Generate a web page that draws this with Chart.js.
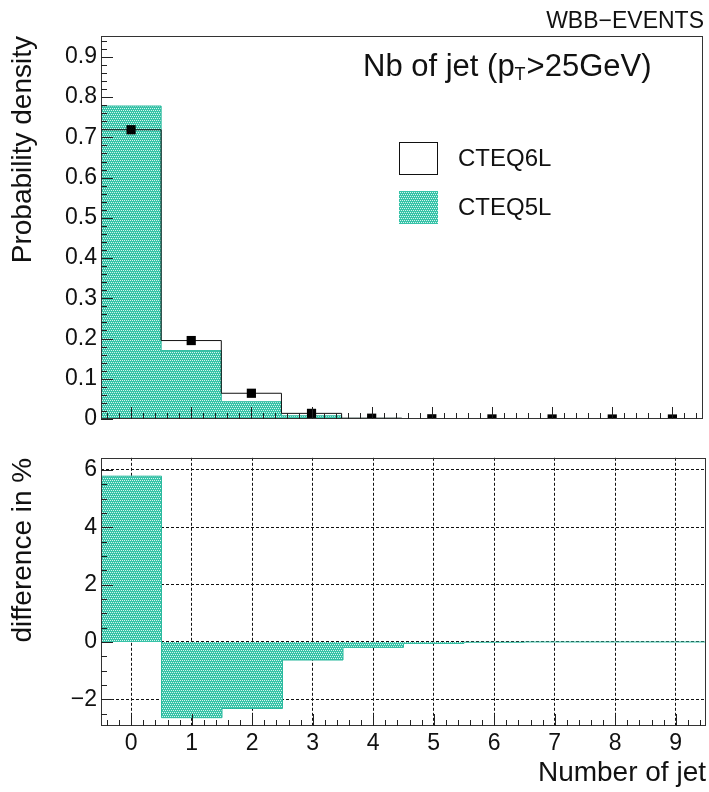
<!DOCTYPE html>
<html>
<head>
<meta charset="utf-8">
<script src="https://cdn.jsdelivr.net/npm/chart.js@4.4.1/dist/chart.umd.min.js"></script>
<style>
  body { margin: 0; background: #fff; }
  #wrap { position: relative; width: 709px; height: 792px; }
  #topBox { position: absolute; left: 0; top: 0; }
  #botBox { position: absolute; left: 0; top: 440px; }
</style>
</head>
<body>
<div id="wrap">
  <div id="topBox"><canvas id="densityChart" width="709" height="440"></canvas></div>
  <div id="botBox"><canvas id="diffChart" width="709" height="352"></canvas></div>
</div>
<script>
// jet multiplicity bins
const nJets = [0, 1, 2, 3, 4, 5, 6, 7, 8, 9];
// probability density per bin
const cteq6l = [0.719, 0.195, 0.064, 0.014, 0.002, 0.0005, 0.0002, 0.0001, 0, 0];
const cteq5l = [0.778, 0.170, 0.043, 0.008, 0.0015, 0.0004, 0.0001, 0, 0, 0];
// CTEQ5L - CTEQ6L, in %
const diffPct = [5.78, -2.64, -2.32, -0.63, -0.19, -0.05, -0.01, 0, 0, 0];

const xTicks = [0, 1, 2, 3, 4, 5, 6, 7, 8, 9];
const densityTicks = [0, 0.1, 0.2, 0.3, 0.4, 0.5, 0.6, 0.7, 0.8, 0.9];
const diffTicks = [-2, 0, 2, 4, 6];

const FONT = "'Liberation Sans', Arial, Helvetica, sans-serif";
const TEAL_LINE = 'rgb(45,185,158)';

// dotted teal fill, like the ROOT pattern style
function tealPattern() {
  let c = document.createElement('canvas');
  c.width = 4; c.height = 4;
  let g = c.getContext('2d');
  g.fillStyle = 'rgb(55,195,168)';
  g.fillRect(0, 0, 4, 4);
  g.fillStyle = 'rgb(215,245,238)';
  [[0, 0], [2, 0], [1, 2], [3, 2]].forEach(function (p) { g.fillRect(p[0], p[1], 1, 1); });
  return g.createPattern(c, 'repeat');
}
const FILL = tealPattern();

// histogram outline: one point on each left bin edge plus the closing edge
function steps(vals) {
  let pts = vals.map(function (v, i) { return {x: nJets[i] - 0.5, y: v}; });
  pts.push({x: nJets[nJets.length - 1] + 0.5, y: vals[vals.length - 1]});
  return pts;
}

function fixedTicks(list) {
  return function (scale) { scale.ticks = list.map(function (v) { return {value: v}; }); };
}

// closed frame with ROOT-style ticks pointing inwards
const frameTicks = {
  id: 'frameTicks',
  afterDraw(chart, args, opts) {
    const ctx = chart.ctx, a = chart.chartArea;
    const xs = chart.scales.x, ys = chart.scales.y;
    ctx.save();
    ctx.strokeStyle = '#333';
    ctx.lineWidth = 1;
    ctx.strokeRect(Math.round(a.left) + 0.5, Math.round(a.top) + 0.5,
                   Math.round(a.right - a.left) - 1, Math.round(a.bottom - a.top) - 1);
    ctx.strokeStyle = '#222';
    ctx.beginPath();
    let k0 = Math.ceil(xs.min / opts.xMinor - 1e-6), k1 = Math.floor(xs.max / opts.xMinor + 1e-6);
    for (let k = k0; k <= k1; k++) {
      let v = k * opts.xMinor;
      let major = Math.abs(v / opts.xMajor - Math.round(v / opts.xMajor)) < 1e-6;
      let px = Math.round(xs.getPixelForValue(v)) + 0.5;
      ctx.moveTo(px, a.bottom);
      ctx.lineTo(px, a.bottom - (major ? 12 : 6));
    }
    k0 = Math.ceil(ys.min / opts.yMinor - 1e-6); k1 = Math.floor(ys.max / opts.yMinor + 1e-6);
    for (let k = k0; k <= k1; k++) {
      let v = k * opts.yMinor;
      let major = Math.abs(v / opts.yMajor - Math.round(v / opts.yMajor)) < 1e-6;
      let py = Math.round(ys.getPixelForValue(v)) + 0.5;
      ctx.moveTo(a.left, py);
      ctx.lineTo(a.left + (major ? 12 : 6), py);
    }
    ctx.stroke();
    ctx.restore();
  }
};

// page label, plot title and legend of the upper pad
const padText = {
  id: 'padText',
  afterDraw(chart) {
    const ctx = chart.ctx;
    ctx.save();
    ctx.fillStyle = '#111';
    ctx.textBaseline = 'alphabetic';

    ctx.font = '23px ' + FONT;
    ctx.textAlign = 'right';
    ctx.fillText('WBB\u2212EVENTS', 704, 28);

    ctx.textAlign = 'left';
    let x = 363;
    ctx.font = '31px ' + FONT;
    ctx.fillText('Nb of jet (p', x, 76);
    x += ctx.measureText('Nb of jet (p').width;
    ctx.font = '18px ' + FONT;
    ctx.fillText('T', x, 80);
    x += ctx.measureText('T').width + 1;
    ctx.font = '31px ' + FONT;
    ctx.fillText('>25GeV)', x, 76);

    // legend
    ctx.fillStyle = '#fff';
    ctx.fillRect(399, 142, 39, 33);
    ctx.strokeStyle = '#111';
    ctx.strokeRect(399.5, 142.5, 38, 32);
    ctx.fillStyle = FILL;
    ctx.fillRect(399, 191, 39, 33);
    ctx.fillStyle = '#111';
    ctx.font = '24px ' + FONT;
    ctx.textBaseline = 'middle';
    ctx.fillText('CTEQ6L', 458, 159);
    ctx.fillText('CTEQ5L', 458, 208);
    ctx.restore();
  }
};

const common = {
  responsive: false,
  animation: false,
  events: [],
  plugins: { legend: {display: false}, tooltip: {enabled: false} }
};

// lower pad grid: black, dashed (v4 takes the grid dash from border.dash)
const gridLines = {color: '#111', lineWidth: 1, drawTicks: false};
const gridDash = {display: false, dash: [3, 2]};

let densityChart = new Chart(document.getElementById('densityChart'), {
  type: 'line',
  data: {
    datasets: [
      {
        label: 'CTEQ6L points',
        data: nJets.map(function (n, i) { return {x: n, y: cteq6l[i]}; }),
        showLine: false,
        pointStyle: 'rect',
        pointRadius: 6.5,
        pointBorderWidth: 0,
        pointBackgroundColor: '#000',
        clip: {left: false, top: false, right: false, bottom: 0},
        order: 0
      },
      {
        label: 'CTEQ6L',
        data: steps(cteq6l),
        stepped: true,
        borderColor: '#111',
        borderWidth: 1,
        pointRadius: 0,
        fill: false,
        order: 1
      },
      {
        label: 'CTEQ5L',
        data: steps(cteq5l),
        stepped: true,
        borderColor: TEAL_LINE,
        borderWidth: 1,
        backgroundColor: FILL,
        pointRadius: 0,
        fill: 'origin',
        order: 2
      }
    ]
  },
  options: Object.assign({}, common, {
    layout: { padding: {top: 36, right: 3, left: 0, bottom: 0} },
    plugins: Object.assign({}, common.plugins, {
      frameTicks: {xMajor: 1, xMinor: 0.2, yMajor: 0.1, yMinor: 0.02}
    }),
    scales: {
      x: {
        type: 'linear', min: -0.5, max: 9.5,
        afterBuildTicks: fixedTicks(xTicks),
        ticks: {display: false},
        grid: {display: false, drawTicks: false},
        border: {display: false},
        afterFit: function (s) { s.height = 21; }
      },
      y: {
        min: 0, max: 0.952,
        afterBuildTicks: fixedTicks(densityTicks),
        ticks: {
          padding: 4, color: '#111',
          font: {family: FONT, size: 23},
          callback: function (v) { return v === 0 ? '0' : v.toFixed(1); }
        },
        grid: {display: false, drawTicks: false},
        border: {display: false},
        title: {
          display: true, text: 'Probability density', align: 'end', color: '#111',
          font: {family: FONT, size: 28}, padding: {top: 6, bottom: 0}
        },
        afterFit: function (s) { s.width = 101; }
      }
    }
  }),
  plugins: [frameTicks, padText]
});

let diffChart = new Chart(document.getElementById('diffChart'), {
  type: 'line',
  data: {
    datasets: [
      {
        label: 'difference',
        data: steps(diffPct),
        stepped: true,
        borderColor: TEAL_LINE,
        borderWidth: 1,
        backgroundColor: FILL,
        pointRadius: 0,
        fill: 'origin'
      }
    ]
  },
  options: Object.assign({}, common, {
    layout: { padding: {top: 4, right: 3, left: 0, bottom: 0} },
    plugins: Object.assign({}, common.plugins, {
      frameTicks: {xMajor: 1, xMinor: 0.2, yMajor: 2, yMinor: 0.5}
    }),
    scales: {
      x: {
        type: 'linear', min: -0.5, max: 9.5, z: 1,
        afterBuildTicks: fixedTicks(xTicks),
        ticks: {padding: 4, color: '#111', font: {family: FONT, size: 23}},
        grid: gridLines,
        border: gridDash,
        title: {
          display: true, text: 'Number of jet', align: 'end', color: '#111',
          font: {family: FONT, size: 28}, padding: {top: 0, bottom: 2}
        },
        afterFit: function (s) { s.height = 66; }
      },
      y: {
        min: -2.93, max: 6.42, z: 1,
        afterBuildTicks: fixedTicks(diffTicks),
        ticks: {
          padding: 4, color: '#111', font: {family: FONT, size: 23},
          callback: function (v) { return v < 0 ? '\u2212' + Math.abs(v) : String(v); }
        },
        grid: gridLines,
        border: gridDash,
        title: {
          display: true, text: 'difference in %', align: 'end', color: '#111',
          font: {family: FONT, size: 28}, padding: {top: 6, bottom: 0}
        },
        afterFit: function (s) { s.width = 101; }
      }
    }
  }),
  plugins: [frameTicks]
});
</script>
</body>
</html>
